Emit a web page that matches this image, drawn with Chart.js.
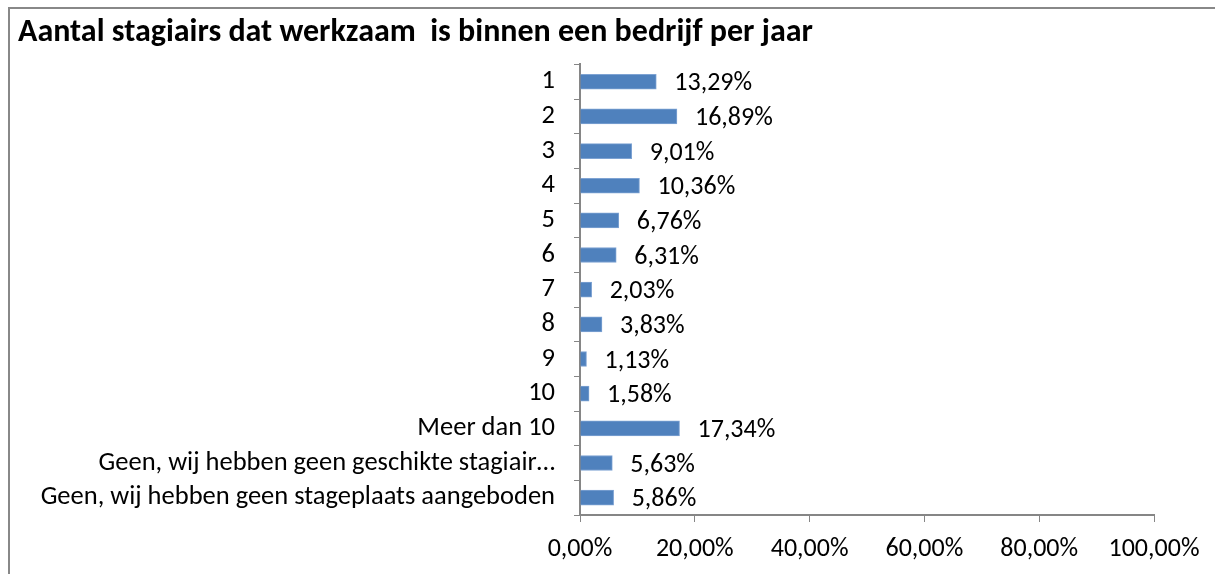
<!DOCTYPE html>
<html lang="nl">
<head>
  <meta charset="UTF-8">
  <title>Aantal stagiairs per jaar</title>
  <script src="https://cdn.jsdelivr.net/npm/chart.js"></script>
  <style>
    body { margin: 0; background: #fff; }
    .frame {
      position: absolute;
      left: 8px;
      top: 7px;
      border-left: 2px solid #888;
      border-top: 2px solid #888;
      width: 1205px;
      height: 565px;
    }
    canvas { display: block; }
  </style>
</head>
<body>
  <div class="frame">
    <canvas id="chart" width="1205" height="565"></canvas>
  </div>

  <script>
    // --- data ---
    const categories = [
      '1', '2', '3', '4', '5', '6', '7', '8', '9', '10',
      'Meer dan 10',
      'Geen, wij hebben geen geschikte stagiair…',
      'Geen, wij hebben geen stageplaats aangeboden'
    ];
    const percentages = [13.29, 16.89, 9.01, 10.36, 6.76, 6.31, 2.03, 3.83, 1.13, 1.58, 17.34, 5.63, 5.86];
    const xTicks = [0, 20, 40, 60, 80, 100];

    const FONT = 'Carlito, Lato, sans-serif';
    const fmt = v => v.toFixed(2).replace('.', ',') + '%';

    // value labels right of each bar
    const valueLabels = {
      id: 'valueLabels',
      afterDatasetsDraw(chart) {
        const c = chart.ctx;
        const meta = chart.getDatasetMeta(0);
        c.save();
        c.font = '26px ' + FONT;
        c.fillStyle = '#000';
        c.textBaseline = 'middle';
        c.textAlign = 'left';
        meta.data.forEach((bar, i) => {
          c.fillText(fmt(percentages[i]), bar.x + 18, bar.y + 2);
        });
        c.restore();
      }
    };

    new Chart(document.getElementById('chart'), {
      type: 'bar',
      data: {
        labels: categories,
        datasets: [{
          data: percentages,
          backgroundColor: '#4f81bd',
          borderColor: '#7ea3d3',
          borderWidth: 1,
          barThickness: 15
        }]
      },
      options: {
        indexAxis: 'y',
        responsive: false,
        animation: false,
        layout: { padding: { left: 8, right: 61, top: 0, bottom: 0 } },
        plugins: {
          legend: { display: false },
          tooltip: { enabled: false },
          title: {
            display: true,
            text: 'Aantal stagiairs dat werkzaam  is binnen een bedrijf per jaar',
            align: 'start',
            color: '#000',
            font: { family: FONT, size: 32, weight: 'bold' },
            padding: { top: 5, bottom: 12 }
          }
        },
        scales: {
          y: {
            afterFit: s => { s.width = 562; },
            grid: {
              offset: true,
              drawOnChartArea: false,
              color: '#868686',
              tickLength: 6
            },
            border: { color: '#868686', width: 2 },
            ticks: {
              color: '#000',
              padding: 19,
              autoSkip: false,
              font: { family: FONT, size: 26.5 }
            }
          },
          x: {
            min: 0,
            max: 100,
            afterFit: s => { s.height = 59; },
            afterBuildTicks: s => { s.ticks = xTicks.map(v => ({ value: v })); },
            grid: {
              drawOnChartArea: false,
              color: '#868686',
              tickLength: 7
            },
            border: { color: '#868686', width: 2 },
            ticks: {
              color: '#000',
              padding: 12,
              maxRotation: 0,
              autoSkip: false,
              font: { family: FONT, size: 26 },
              callback: v => fmt(v)
            }
          }
        }
      },
      plugins: [valueLabels]
    });
  </script>
</body>
</html>
